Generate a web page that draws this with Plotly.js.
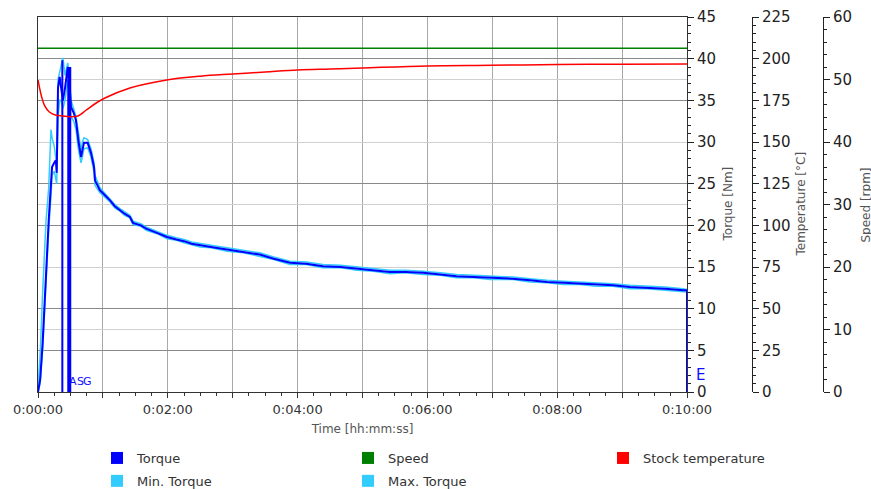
<!DOCTYPE html>
<html>
<head>
<meta charset="utf-8">
<script src="https://cdn.plot.ly/plotly-3.0.1.min.js"></script>
<style>html,body{margin:0;padding:0;background:#fff;}#chart{width:871px;height:489px;}</style>
</head>
<body>
<div id="chart"></div>
<script>
// Time in seconds
const torqueT = [0,2,4.3,7.4,9.9,12,13,15,16.5,17.3,18.5,20,21.3,23,25,27.5,29,30.5,33,35.1,37.5,39.8,41,42.5,45.9,49,51.8,52.7,57.3,62,66.6,71,75.8,80,85,87.8,95,100,110,119.3,128,135,142,149.8,160,174.7,190,205,218,233,248,263.5,280,295,310,325.4,340,356,372,387,403,418,439,455,470.6,486,501,516,531.6,547,563,580,596.3,600];
const torqueV = [0,1.5,5.9,14.6,20.6,25,27,27.5,27.8,26.3,36.5,37.8,36.8,35,36.5,39,37,34.2,33.5,32.6,30,28.2,29,29.9,29.9,28.7,27,25.4,24.2,23.6,23,22.3,21.8,21.4,21,20.3,20.0,19.6,19.1,18.6,18.3,18.1,17.8,17.6,17.4,17.1,16.8,16.5,16.0,15.5,15.4,15.1,15.0,14.8,14.6,14.4,14.4,14.3,14.1,13.9,13.8,13.7,13.6,13.4,13.2,13.1,13.0,12.9,12.8,12.6,12.5,12.4,12.2,12.2];
const minTorqueV = [0,1,5,13.5,19.5,23.5,26,26.5,25.5,25,33,35,35,34,35,37.5,35.5,33,32.5,31.5,29,27.5,28.2,29.2,29.3,28.2,26.4,24.8,23.9,23.4,22.8,22.1,21.7,21.2,20.9,20.1,19.9,19.4,19.0,18.4,18.2,17.9,17.7,17.4,17.3,16.9,16.7,16.3,15.9,15.3,15.3,14.9,14.9,14.6,14.5,14.2,14.3,14.1,14.0,13.7,13.7,13.5,13.5,13.2,13.1,12.9,12.9,12.7,12.7,12.4,12.4,12.2,12.1,12.0];
const maxTorqueV = [0.5,4.5,12,20.5,24.5,31.5,30.5,29.5,28,27.5,37.5,38.5,39,40.1,38,39.5,38,35,34,33,31,29,30,30.5,30.3,29.2,27.5,26,24.5,23.8,23.2,22.5,22.0,21.6,21.2,20.5,20.2,19.8,19.3,18.8,18.5,18.3,18.0,17.8,17.6,17.3,17.0,16.7,16.2,15.7,15.6,15.3,15.2,15.0,14.8,14.6,14.6,14.5,14.3,14.1,14.0,13.9,13.8,13.6,13.4,13.3,13.2,13.1,13.0,12.8,12.7,12.6,12.4,12.3];

const tempT = [0,3,6,10.5,16.7,22.8,29,36.9,44.6,53.8,61.9,85,119,150,180,210,240,270,300,360,420,480,540,600];
const tempV = [187.2,178,172,168,166,165.6,165.2,165.6,169.2,173.4,176.4,182.4,187.2,189.5,190.8,192,193.2,193.8,194.4,195.6,196,196.5,196.7,196.8];

const speedT = [0,600];
const speedV = [55,55];

// Event markers
const eventT = [22.5, 28.9, 600];
const eventTop = [39.8, 39, 12.2];
const eventWidth = [2, 4, 2];
const eventLabels = ["A","S","G","E"];
const eventLabelT = [32.5, 39.0, 45.8, 600];
const eventLabelY = [1.3, 1.3, 1.3, 2.0];

const axisTitles = ["Torque [Nm]", "Temperature [°C]", "Speed [rpm]"];
const axisTitlePx = [727, 800, 865];

const xTickVals = [0,60,120,180,240,300,360,420,480,540,600];
const xTickText = ["0:00:00","","0:02:00","","0:04:00","","0:06:00","","0:08:00","","0:10:00"];

const cTorque = "#0000ff", cLight = "#33ccff", cSpeed = "#008000", cTemp = "#ff0000";

const traces = [];
traces.push({x: torqueT, y: minTorqueV, mode:"lines", line:{color:cLight, width:1.5}, showlegend:false, hoverinfo:"skip"});
traces.push({x: torqueT, y: maxTorqueV, mode:"lines", line:{color:cLight, width:1.5}, showlegend:false, hoverinfo:"skip"});
traces.push({x: torqueT, y: torqueV, mode:"lines", line:{color:cTorque, width:2}, showlegend:false});
for (let i=0;i<eventT.length;i++){
  traces.push({x:[eventT[i],eventT[i]], y:[0,eventTop[i]], mode:"lines", line:{color:cTorque, width:eventWidth[i]}, showlegend:false, hoverinfo:"skip"});
}
traces.push({x: speedT, y: speedV, yaxis:"y3", mode:"lines", line:{color:cSpeed, width:1.5}, showlegend:false});
traces.push({x: tempT, y: tempV, yaxis:"y2", mode:"lines", line:{color:cTemp, width:1.5, shape:"spline"}, showlegend:false});

// legend entries: [name, colour, legend column, group]
const legendItems = [
  ["Torque", cTorque, "legend", "g1"],
  ["Min. Torque", cLight, "legend", "g2"],
  ["Speed", cSpeed, "legend2", "g3"],
  ["Max. Torque", cLight, "legend2", "g4"],
  ["Stock temperature", cTemp, "legend3", "g5"]
];
legendItems.forEach(function(p){
  traces.push({x:[null],y:[null],mode:"markers",name:p[0],legendgroup:p[3],
    marker:{symbol:"square",size:12,color:p[1]},legend:p[2]});
});

const titleFont = {family:"DejaVu Sans", size:12, color:"#555"};
const annotations = [];
for (let i=0;i<eventLabels.length;i++){
  const isEnd = eventLabels[i]==="E";
  annotations.push({x:eventLabelT[i], y:eventLabelY[i], xref:"x", yref:"y", text:eventLabels[i], showarrow:false,
    xanchor: isEnd ? "left" : "center", xshift: isEnd ? 7 : 0,
    font:{family:"DejaVu Sans", size: isEnd ? 15 : 11, color:"#1010ff"}});
}
for (let i=0;i<axisTitles.length;i++){
  annotations.push({x:(axisTitlePx[i]-38)/823, y:0.5, xref:"paper", yref:"paper", text:axisTitles[i],
    textangle:-90, showarrow:false, xanchor:"center", yanchor:"middle", font:titleFont});
}

const tickFont = {family:"DejaVu Sans", size:15, color:"#222"};
const legFont = {family:"DejaVu Sans", size:13, color:"#333"};

function legendAt(xpx){
  return {orientation:"v", xref:"container", yref:"container", x:xpx/871, xanchor:"left",
    y:1-443/489, yanchor:"top", traceorder:"grouped", tracegroupgap:3,
    font:legFont, bgcolor:"rgba(0,0,0,0)", itemwidth:30};
}

const layout = {
  width:871, height:489,
  margin:{l:38, r:10, t:17, b:97, autoexpand:false},
  paper_bgcolor:"#fff", plot_bgcolor:"#fff",
  showlegend:true,
  xaxis:{domain:[0,649/823], range:[0,600], tickvals:xTickVals, ticktext:xTickText,
    ticks:"outside", ticklen:5, tickcolor:"#333", showline:true, linecolor:"#333", linewidth:1, mirror:true,
    showgrid:true, gridcolor:"#a8a8a8", zeroline:false,
    minor:{dtick:15, tick0:0, ticks:"outside", ticklen:3, tickcolor:"#333", showgrid:false},
    tickfont:{family:"DejaVu Sans", size:13, color:"#333"},
    title:{text:"Time [hh:mm:ss]", font:titleFont, standoff:9}},
  yaxis:{side:"right", range:[0,45], dtick:5, ticks:"outside", ticklen:6, tickcolor:"#222",
    showline:true, linecolor:"#333", mirror:true, showgrid:true, gridcolor:"#8a8a8a", zeroline:false,
    minor:{dtick:1, ticks:"outside", ticklen:3, tickcolor:"#222", showgrid:false},
    tickfont:tickFont},
  yaxis2:{overlaying:"y", side:"right", anchor:"free", position:714/823, range:[0,225], dtick:25,
    ticks:"outside", ticklen:6, tickcolor:"#222", showline:true, linecolor:"#222", showgrid:false, zeroline:false,
    minor:{dtick:5, ticks:"outside", ticklen:3, tickcolor:"#222"},
    tickfont:tickFont},
  yaxis3:{overlaying:"y", side:"right", anchor:"free", position:785/823, range:[0,60], dtick:10,
    ticks:"outside", ticklen:6, tickcolor:"#222", showline:true, linecolor:"#222", showgrid:true, gridcolor:"#d0d0d0", zeroline:false,
    minor:{dtick:2, ticks:"outside", ticklen:3, tickcolor:"#222", showgrid:false},
    tickfont:tickFont},
  legend: legendAt(97),
  legend2: legendAt(348),
  legend3: legendAt(603),
  annotations:annotations
};

Plotly.newPlot("chart", traces, layout, {displayModeBar:false, staticPlot:true});
</script>
</body>
</html>
